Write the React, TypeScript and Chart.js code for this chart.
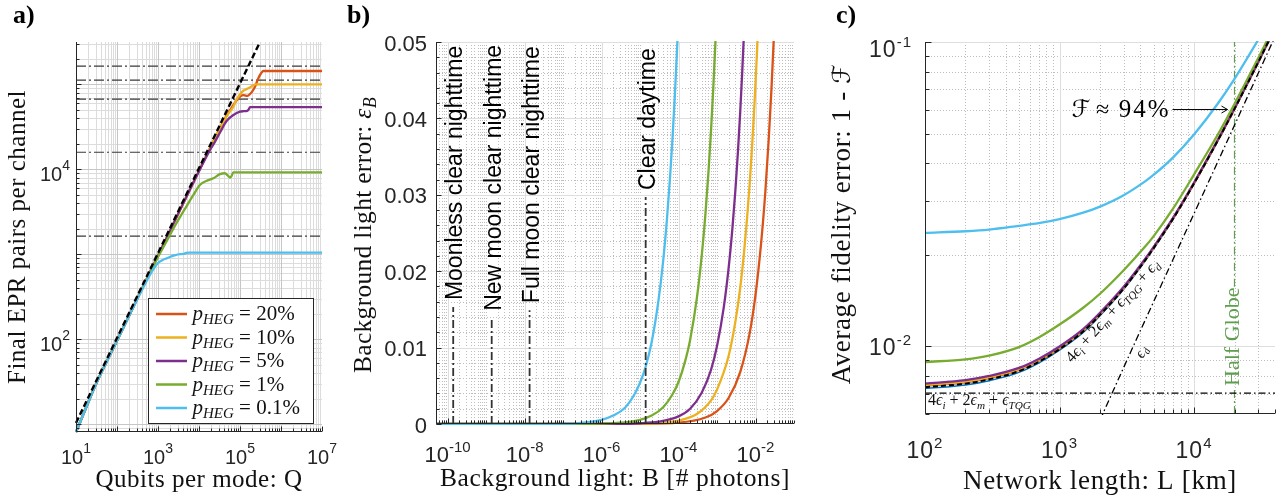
import React, { useEffect, useRef } from 'react';
import { Chart, registerables } from 'chart.js';
Chart.register(...registerables);

const W = 1285;
const H = 499;

const ORANGE = '#D95319';
const YELLOW = '#EDB120';
const PURPLE = '#7E2F8E';
const GREEN = '#77AC30';
const CYAN = '#4DBEEE';
const BLUE = '#0072BD';
const AXIS = '#262626';
const GLOBE = '#5E9E4E';

const SANS = '"Liberation Sans", Arial, Helvetica, sans-serif';
const SERIF = '"Liberation Serif", "Times New Roman", "DejaVu Serif", "DejaVu Sans", serif';

// ---------------- legend ----------------
const hegLabels = ['20%', '10%', '5%', '1%', '0.1%'];
const hegColors = [ORANGE, YELLOW, PURPLE, GREEN, CYAN];

// ---------------- panel a ----------------
const aXTicks = [1e1, 1e3, 1e5, 1e7];
const aYTicks = [1e2, 1e4];
const aQ_dash = [10, 307000];
const aN_dash = [10.4, 314600];
const aQ_orange = [10, 15, 30, 100, 300, 1000, 3000, 10000, 30000, 50000, 68700, 85000, 100000, 125000, 150000, 180000, 209000, 232000, 280000, 330000, 372000, 1e7];
const aN_orange = [8.12, 13, 29, 96, 290, 960, 2900, 9600, 28500, 45000, 57100, 66000, 72000, 74500, 73000, 78000, 85700, 93600, 118000, 136000, 143600, 143600];
const aQ_yellow = [10, 15, 30, 100, 300, 1000, 3000, 10000, 30000, 50000, 69000, 81000, 100000, 120000, 160000, 210000, 235000, 1e7];
const aN_yellow = [8.12, 13, 29, 96, 290, 960, 2900, 9600, 28500, 44000, 54600, 65300, 76000, 84100, 90000, 97200, 100000, 100000];
const aQ_purple = [10, 15, 30, 100, 300, 1000, 3000, 10000, 18000, 25000, 33000, 47000, 69000, 100000, 120000, 150000, 165000, 175000, 1e7];
const aN_purple = [8.12, 13, 29, 96, 290, 960, 2900, 9500, 16500, 21500, 27500, 37000, 43600, 47700, 48300, 48800, 51000, 54100, 54100];
const aQ_green = [10, 15, 30, 100, 300, 1000, 1500, 2500, 5000, 7500, 10500, 15000, 22400, 32400, 42800, 50000, 57000, 62000, 68700, 1e7];
const aN_green = [8.12, 13, 29, 96, 290, 930, 1330, 2100, 3700, 5100, 6530, 7300, 7840, 8800, 9000, 8500, 8000, 8300, 9230, 9230];
const aQ_cyan = [10, 15, 30, 100, 300, 600, 767, 1000, 1300, 1620, 2500, 3440, 4200, 4800, 6000, 1e7];
const aN_cyan = [8.12, 13, 29, 96, 285, 545, 666, 790, 860, 897, 970, 1005, 1010, 1040, 1045, 1045];
const aRefN = [164000, 112000, 67000, 15900, 1640];

// ---------------- panel b ----------------
const bXTicks = [1e-10, 1e-8, 1e-6, 1e-4, 1e-2];
const bYTicks = [0, 0.01, 0.02, 0.03, 0.04, 0.05];
const bYTickLabels = ['0', '0.01', '0.02', '0.03', '0.04', '0.05'];
const bB_cyan = [5e-11, 1e-8, 1e-7, 3e-7, 1e-6, 2e-6, 4e-6, 7e-6, 1e-5, 1.4e-5, 2e-5, 3e-5, 4e-5, 5e-5, 6e-5, 7e-5, 8e-5, 9e-5, 1e-4];
const bE_cyan = [0, 0.000005, 0.00005, 0.00016, 0.00054, 0.0011, 0.0021, 0.0038, 0.0054, 0.0075, 0.0107, 0.0161, 0.0214, 0.0268, 0.0322, 0.0375, 0.0429, 0.0482, 0.0536];
const bB_green = [5e-11, 1e-7, 1e-6, 3e-6, 1e-5, 2e-5, 4e-5, 7e-5, 1e-4, 1.5e-4, 2e-4, 3e-4, 4e-4, 5e-4, 6e-4, 7e-4, 8e-4, 9e-4, 1e-3];
const bE_green = [0, 0.0000055, 0.000055, 0.00017, 0.00055, 0.0011, 0.0022, 0.0039, 0.0055, 0.0083, 0.011, 0.0165, 0.022, 0.0275, 0.033, 0.0385, 0.044, 0.0495, 0.055];
const bB_purple = [5e-11, 1e-6, 1e-5, 3e-5, 1e-4, 2e-4, 4e-4, 7e-4, 1e-3, 1.5e-3, 2e-3, 2.5e-3, 3e-3, 3.5e-3, 4e-3, 4.5e-3, 5e-3, 5.5e-3];
const bE_purple = [0, 0.00001, 0.0001, 0.0003, 0.001, 0.002, 0.0041, 0.0071, 0.0102, 0.0153, 0.0204, 0.0255, 0.0306, 0.0357, 0.0408, 0.0459, 0.051, 0.056];
const bB_yellow = [5e-11, 1e-6, 1e-5, 1e-4, 3e-4, 7e-4, 1e-3, 2e-3, 3e-3, 4e-3, 5e-3, 6e-3, 7e-3, 8e-3, 9e-3, 1e-2, 1.1e-2, 1.2e-2];
const bE_yellow = [0, 0.0000045, 0.000045, 0.00045, 0.0013, 0.0031, 0.0045, 0.0089, 0.0134, 0.0178, 0.0223, 0.0268, 0.0312, 0.0357, 0.0401, 0.0446, 0.049, 0.0535];
const bB_orange = [5e-11, 1e-6, 1e-5, 1e-4, 5e-4, 1e-3, 2e-3, 4e-3, 7e-3, 1e-2, 1.4e-2, 1.8e-2, 2.2e-2, 2.6e-2, 3e-2, 3.2e-2];
const bE_orange = [0, 0.0000017, 0.000017, 0.00017, 0.00085, 0.0017, 0.0034, 0.0068, 0.0118, 0.0169, 0.0237, 0.0304, 0.0372, 0.0439, 0.0507, 0.054];
const bLineB = [1.4e-10, 1.4e-9, 1.35e-8, 1.4e-5];
const bLineTop = [0.0153, 0.0139, 0.0149, 0.0297];
const bLineLabels = ['Moonless clear nighttime', 'New moon clear nighttime', 'Full moon clear nighttime', 'Clear daytime'];

// ---------------- panel c ----------------
const cXTicks = [1e2, 1e3, 1e4];
const cYTicks = [1e-2, 1e-1];
const cL = [100, 200, 300, 500, 700, 1000, 1500, 2000, 3000, 4300, 5000, 7000, 10000, 15000, 20000, 30000, 36000, 40000];
const cBlack = [0.00735, 0.00755, 0.0078, 0.0083, 0.0089, 0.0098, 0.0112, 0.0127, 0.0155, 0.0191, 0.021, 0.0263, 0.0343, 0.0474, 0.0603, 0.0858, 0.101, 0.111];
const cPurple = [0.00755, 0.00775, 0.008, 0.0085, 0.0091, 0.01, 0.0114, 0.0129, 0.0157, 0.0193, 0.0212, 0.0265, 0.0345, 0.0476, 0.0605, 0.086, 0.1012, 0.1112];
const cYellow = [0.00747, 0.00767, 0.00792, 0.00842, 0.00902, 0.00992, 0.01132, 0.01282, 0.01562, 0.01922, 0.02112, 0.02642, 0.03442, 0.04752, 0.06042, 0.08592, 0.1011, 0.1111];
const cOrange = [0.00742, 0.00762, 0.00787, 0.00837, 0.00897, 0.00987, 0.01127, 0.01277, 0.01557, 0.01917, 0.02107, 0.02637, 0.03437, 0.04747, 0.06037, 0.08587, 0.1011, 0.1111];
const cBlue = [0.00727, 0.00747, 0.00772, 0.00822, 0.00882, 0.00972, 0.01112, 0.01262, 0.01542, 0.01902, 0.02092, 0.02622, 0.03422, 0.04732, 0.06022, 0.08572, 0.1009, 0.1109];
const cGreen = [0.00889, 0.00907, 0.00933, 0.00995, 0.0107, 0.0118, 0.0134, 0.0149, 0.0178, 0.0212, 0.023, 0.0284, 0.0367, 0.0496, 0.0626, 0.0885, 0.1038, 0.114];
const cCyan = [0.0236, 0.0239, 0.0242, 0.0249, 0.0254, 0.0262, 0.0275, 0.0288, 0.0314, 0.0348, 0.0366, 0.0418, 0.0497, 0.0627, 0.0757, 0.1017, 0.117, 0.127];
const cDL = [2000, 3530, 10000, 20000, 38300, 42000];
const cDVal = [0.00573, 0.01, 0.0273, 0.0533, 0.0999, 0.1092];
const cConst = 0.00703;
const cGlobeL = 20000;
const cGlobeGap = [0.00738, 0.0157];
const cFidelity = 0.06;

// ---------------- helpers ----------------
type Seg = { t: string; size: number; style?: string; family?: string; dy?: number };

function fontOf(s: Seg, fam: string) {
  return `${s.style || 'normal'} ${s.size}px ${s.family || fam}`;
}
function segsWidth(ctx: CanvasRenderingContext2D, segs: Seg[], fam: string) {
  let w = 0;
  for (const s of segs) {
    ctx.font = fontOf(s, fam);
    w += ctx.measureText(s.t).width;
  }
  return w;
}
function drawSegs(ctx: CanvasRenderingContext2D, segs: Seg[], fam: string, x: number, y: number, align: string, ls = 0) {
  (ctx as any).letterSpacing = `${ls}px`;
  const w = segsWidth(ctx, segs, fam);
  let cx = align === 'left' ? x : align === 'right' ? x - w : x - w / 2;
  ctx.textAlign = 'left';
  ctx.textBaseline = 'alphabetic';
  for (const s of segs) {
    ctx.font = fontOf(s, fam);
    ctx.fillText(s.t, cx, y + (s.dy || 0));
    cx += ctx.measureText(s.t).width;
  }
  (ctx as any).letterSpacing = '0px';
}
function drawRot(ctx: CanvasRenderingContext2D, segs: Seg[], fam: string, x: number, y: number, ang: number, align: string, ls = 0) {
  ctx.save();
  ctx.translate(x, y);
  ctx.rotate(ang);
  drawSegs(ctx, segs, fam, 0, 0, align, ls);
  ctx.restore();
}
function drawPow(ctx: CanvasRenderingContext2D, v: number, x: number, y: number, align: string, base: number, ex: number, exDy: number, ls = 0) {
  const e = Math.round(Math.log10(v));
  drawSegs(ctx, [{ t: '10', size: base }, { t: String(e), size: ex, dy: exDy }], SANS, x, y, align, ls);
}
function logSteps(min: number, max: number) {
  const out: number[] = [];
  for (let e = Math.floor(Math.log10(min)); e <= Math.ceil(Math.log10(max)); e++) {
    for (let k = 1; k <= 9; k++) {
      const v = k * Math.pow(10, e);
      if (v >= min * 0.9999 && v <= max * 1.0001) out.push(v);
    }
  }
  return out;
}
function linSteps(min: number, max: number, step: number) {
  const out: number[] = [];
  for (let i = 0; min + i * step <= max + step * 1e-6; i++) out.push(+(min + i * step).toFixed(6));
  return out;
}
const isDecade = (v: number) => Math.abs(Math.log10(v) - Math.round(Math.log10(v))) < 1e-6;
const inList = (v: number, arr: number[]) => arr.some((a) => Math.abs(a - v) <= Math.abs(a) * 1e-6 + 1e-12);

type GS = { color: string; dash: number[] };
function drawGrid(chart: any, xs: [number, boolean][], ys: [number, boolean][], major: GS, minor: GS) {
  const { ctx, chartArea: ca, scales } = chart;
  ctx.save();
  ctx.beginPath();
  ctx.rect(ca.left, ca.top, ca.right - ca.left, ca.bottom - ca.top);
  ctx.clip();
  ctx.lineWidth = 1;
  const draw = (maj: boolean, fn: () => void) => {
    const st = maj ? major : minor;
    ctx.strokeStyle = st.color;
    ctx.setLineDash(st.dash);
    ctx.beginPath();
    fn();
    ctx.stroke();
  };
  for (const pass of [false, true]) {
    for (const [v, maj] of xs) {
      if (maj !== pass) continue;
      const px = Math.round(scales.x.getPixelForValue(v)) + 0.5;
      draw(maj, () => { ctx.moveTo(px, ca.top); ctx.lineTo(px, ca.bottom); });
    }
    for (const [v, maj] of ys) {
      if (maj !== pass) continue;
      const py = Math.round(scales.y.getPixelForValue(v)) + 0.5;
      draw(maj, () => { ctx.moveTo(ca.left, py); ctx.lineTo(ca.right, py); });
    }
  }
  ctx.restore();
}
function drawAxes(chart: any, xt: [number, number][], yt: [number, number][]) {
  const { ctx, chartArea: ca, scales } = chart;
  ctx.save();
  ctx.strokeStyle = AXIS;
  ctx.lineWidth = 1;
  ctx.setLineDash([]);
  const L = Math.round(ca.left) + 0.5;
  const B = Math.round(ca.bottom) - 0.5;
  ctx.beginPath();
  ctx.moveTo(L, ca.top);
  ctx.lineTo(L, B);
  ctx.lineTo(ca.right, B);
  for (const [v, len] of xt) {
    const px = Math.round(scales.x.getPixelForValue(v)) + 0.5;
    ctx.moveTo(px, B);
    ctx.lineTo(px, B - len);
  }
  for (const [v, len] of yt) {
    const py = Math.round(scales.y.getPixelForValue(v)) + 0.5;
    ctx.moveTo(L, py);
    ctx.lineTo(L + len, py);
  }
  ctx.stroke();
  ctx.restore();
}
function panelLetter(ctx: CanvasRenderingContext2D, t: string, x: number) {
  ctx.fillStyle = '#000';
  drawSegs(ctx, [{ t, size: 26, style: 'bold' }], SERIF, x, 23, 'left');
}

function ds(xs: number[], ys: number[], color: string, width: number, dash: number[], order: number, smooth = false) {
  return {
    data: xs.map((x, i) => ({ x, y: ys[i] })),
    borderColor: color,
    backgroundColor: color,
    borderWidth: width,
    borderDash: dash,
    order,
    pointRadius: 0,
    fill: false,
    tension: 0,
    cubicInterpolationMode: smooth ? 'monotone' : 'default',
    clip: 1,
  };
}

function makeChart(canvas: HTMLCanvasElement, datasets: any[], xs: any, ys: any, padding: any, plugin: any) {
  return new Chart(canvas, {
    type: 'line',
    data: { datasets },
    options: {
      animation: false,
      responsive: false,
      maintainAspectRatio: false,
      events: [],
      layout: { padding },
      plugins: { legend: { display: false }, tooltip: { enabled: false } },
      scales: {
        x: { ...xs, display: false, bounds: 'data' },
        y: { ...ys, display: false, bounds: 'data' },
      },
    },
    plugins: [plugin],
  } as any);
}

// ---------------- panel builders ----------------
function buildA(canvas: HTMLCanvasElement) {
  const X0 = 10, X1 = 1e7, Y0 = 8.12, Y1 = 3.15e5;
  const datasets = [
    ds(aQ_dash, aN_dash, '#000', 2.4, [6, 3], 0),
    ds(aQ_cyan, aN_cyan, CYAN, 2.3, [], 1, true),
    ds(aQ_green, aN_green, GREEN, 2.3, [], 2, true),
    ds(aQ_purple, aN_purple, PURPLE, 2.3, [], 3, true),
    ds(aQ_yellow, aN_yellow, YELLOW, 2.3, [], 4, true),
    ds(aQ_orange, aN_orange, ORANGE, 2.3, [], 5, true),
    ...aRefN.map((v) => ds([X0, X1], [v, v], '#3a3a3a', 1.2, [10, 3, 2, 3], 10)),
  ];
  const xsteps = logSteps(X0, X1);
  const ysteps = logSteps(Y0, Y1);
  const plugin = {
    id: 'panelA',
    beforeDatasetsDraw(chart: any) {
      drawGrid(chart,
        xsteps.map((v) => [v, isDecade(v)] as [number, boolean]),
        ysteps.map((v) => [v, isDecade(v)] as [number, boolean]),
        { color: '#c6c6c6', dash: [] }, { color: '#dcdcdc', dash: [] });
    },
    afterDatasetsDraw(chart: any) {
      const { ctx, chartArea: ca, scales } = chart;
      drawAxes(chart,
        xsteps.map((v) => [v, isDecade(v) ? 5 : 3] as [number, number]),
        ysteps.map((v) => [v, isDecade(v) ? 5 : 3] as [number, number]));
      ctx.fillStyle = AXIS;
      for (const v of aXTicks) drawPow(ctx, v, scales.x.getPixelForValue(v), 464, 'center', 20, 14, -11);
      for (const v of aYTicks) drawPow(ctx, v, 70, scales.y.getPixelForValue(v) + 12, 'right', 20, 14, -11);
      ctx.fillStyle = '#111';
      drawSegs(ctx, [{ t: 'Qubits per mode: Q', size: 25 }], SERIF, (ca.left + ca.right) / 2, 487, 'center', 0.5);
      drawRot(ctx, [{ t: 'Final EPR pairs per channel', size: 25 }], SERIF, 25, (ca.top + ca.bottom) / 2, -Math.PI / 2, 'center', 0.5);
      // legend
      const bx = ca.right - 173.5, by = ca.bottom - 133.5, bw = 165, bh = 125;
      ctx.save();
      ctx.fillStyle = '#fff';
      ctx.fillRect(bx, by, bw, bh);
      ctx.strokeStyle = AXIS;
      ctx.lineWidth = 1;
      ctx.strokeRect(bx, by, bw, bh);
      for (let i = 0; i < hegLabels.length; i++) {
        const yy = by + 15.5 + i * 23.5;
        ctx.strokeStyle = hegColors[i];
        ctx.lineWidth = 2.5;
        ctx.beginPath();
        ctx.moveTo(bx + 7.5, yy);
        ctx.lineTo(bx + 38.5, yy);
        ctx.stroke();
        ctx.fillStyle = '#111';
        drawSegs(ctx, [
          { t: 'p', size: 21, style: 'italic' },
          { t: 'HEG', size: 15, style: 'italic', dy: 4 },
          { t: ' = ' + hegLabels[i], size: 21 },
        ], SERIF, bx + 44, yy + 6, 'left');
      }
      ctx.restore();
      panelLetter(ctx, 'a)', 13);
    },
  };
  return makeChart(canvas, datasets,
    { type: 'logarithmic', min: X0, max: X1 },
    { type: 'logarithmic', min: Y0, max: Y1 },
    { left: 76, right: W - 322, top: 42, bottom: H - 432 }, plugin);
}

function buildB(canvas: HTMLCanvasElement) {
  const X0 = 5e-11, X1 = 0.1, Y0 = 0, Y1 = 0.05;
  const datasets = [
    ...bLineB.map((b, i) => ds([b, b], [0, bLineTop[i]], '#333', 1.8, [8, 3, 2, 3], 0)),
    ds(bB_cyan, bE_cyan, CYAN, 2.3, [], 1, true),
    ds(bB_green, bE_green, GREEN, 2.3, [], 2, true),
    ds(bB_purple, bE_purple, PURPLE, 2.3, [], 3, true),
    ds(bB_yellow, bE_yellow, YELLOW, 2.3, [], 4, true),
    ds(bB_orange, bE_orange, ORANGE, 2.3, [], 5, true),
  ];
  const xsteps = logSteps(X0, X1);
  const ysteps = linSteps(Y0, Y1, 0.002);
  const plugin = {
    id: 'panelB',
    beforeDatasetsDraw(chart: any) {
      drawGrid(chart,
        xsteps.map((v) => [v, inList(v, bXTicks)] as [number, boolean]),
        ysteps.map((v) => [v, inList(v, bYTicks)] as [number, boolean]),
        { color: '#dedede', dash: [] }, { color: '#bdbdbd', dash: [1, 2] });
    },
    afterDatasetsDraw(chart: any) {
      const { ctx, chartArea: ca, scales } = chart;
      drawAxes(chart,
        xsteps.map((v) => [v, inList(v, bXTicks) ? 5 : 3] as [number, number]),
        ysteps.map((v) => [v, inList(v, bYTicks) ? 5 : 3] as [number, number]));
      ctx.fillStyle = AXIS;
      for (const v of bXTicks) drawPow(ctx, v, scales.x.getPixelForValue(v), 462, 'center', 22, 15, -10);
      bYTicks.forEach((v, i) => {
        drawSegs(ctx, [{ t: bYTickLabels[i], size: 22 }], SANS, 427, scales.y.getPixelForValue(v) + 8.5, 'right');
      });
      ctx.fillStyle = '#111';
      drawSegs(ctx, [{ t: 'Background light: B [# photons]', size: 25.5 }], SERIF, (ca.left + ca.right) / 2, 486, 'center', 0.6);
      drawRot(ctx, [
        { t: 'Background light error: ', size: 25.5 },
        { t: 'ε', size: 25.5, style: 'italic' },
        { t: 'B', size: 18, style: 'italic', dy: 5 },
      ], SERIF, 370.5, 235, -Math.PI / 2, 'center', 0.3);
      ctx.fillStyle = '#000';
      bLineB.forEach((b, i) => {
        const px = scales.x.getPixelForValue(b) + 9;
        const py = scales.y.getPixelForValue(bLineTop[i]) - 7;
        drawRot(ctx, [{ t: bLineLabels[i], size: 23 }], SANS, px, py, -Math.PI / 2, 'left');
      });
      panelLetter(ctx, 'b)', 347);
    },
  };
  return makeChart(canvas, datasets,
    { type: 'logarithmic', min: X0, max: X1 },
    { type: 'linear', min: Y0, max: Y1 },
    { left: 436, right: W - 794, top: 42, bottom: H - 424 }, plugin);
}

function buildC(canvas: HTMLCanvasElement) {
  const X0 = 100, X1 = 40000, Y0 = 0.006, Y1 = 0.1;
  const datasets = [
    ds(cL, cBlack, '#000', 2, [5, 3], 0, true),
    ds(cDL, cDVal, '#000', 1.3, [7, 3, 1.5, 3], 1, true),
    ds([X0, X1], [cConst, cConst], '#000', 1.3, [7, 3, 1.5, 3], 2),
    ds(cL, cCyan, CYAN, 2.3, [], 3, true),
    ds(cL, cGreen, GREEN, 2.3, [], 4, true),
    ds(cL, cPurple, PURPLE, 2.3, [], 5, true),
    ds(cL, cYellow, YELLOW, 2.3, [], 6, true),
    ds(cL, cOrange, ORANGE, 2.3, [], 7, true),
    ds(cL, cBlue, BLUE, 1.5, [], 8, true),
    ds([cGlobeL, cGlobeL], [Y0, cGlobeGap[0]], GLOBE, 1.2, [8, 3, 2, 3], 9),
    ds([cGlobeL, cGlobeL], [cGlobeGap[1], Y1], GLOBE, 1.2, [8, 3, 2, 3], 9),
  ];
  const xsteps = logSteps(X0, X1);
  const ysteps = logSteps(Y0, Y1);
  const eps = (sub: string, size: number): Seg[] => [
    { t: 'ϵ', size, style: 'italic' },
    { t: sub, size: size * 0.7, style: 'italic', dy: size * 0.22 },
  ];
  const plugin = {
    id: 'panelC',
    beforeDatasetsDraw(chart: any) {
      drawGrid(chart,
        xsteps.map((v) => [v, isDecade(v)] as [number, boolean]),
        ysteps.map((v) => [v, isDecade(v)] as [number, boolean]),
        { color: '#dedede', dash: [] }, { color: '#bdbdbd', dash: [1, 2] });
    },
    afterDatasetsDraw(chart: any) {
      const { ctx, chartArea: ca, scales } = chart;
      const sx = scales.x, sy = scales.y;
      drawAxes(chart,
        xsteps.map((v) => [v, isDecade(v) ? 6 : 4] as [number, number]),
        ysteps.map((v) => [v, isDecade(v) ? 6 : 4] as [number, number]));
      ctx.fillStyle = AXIS;
      for (const v of cXTicks) drawPow(ctx, v, sx.getPixelForValue(v), 458, 'center', 23, 15, -10, 1);
      for (const v of cYTicks) {
        const by = Math.max(sy.getPixelForValue(v) + 8.5, ca.top + 15);
        drawPow(ctx, v, 912, by, 'right', 23, 15, -10, 1);
      }
      ctx.fillStyle = '#111';
      drawSegs(ctx, [{ t: 'Network length: L [km]', size: 27 }], SERIF, (ca.left + ca.right) / 2, 489, 'center', 0.7);
      drawRot(ctx, [
        { t: 'Average fidelity error: 1 - ', size: 27 },
        { t: 'ℱ', size: 25, family: '"DejaVu Serif", "DejaVu Sans", serif' },
      ], SERIF, 849.5, 224, -Math.PI / 2, 'center', 0.6);

      // horizontal constant label
      const lbl1: Seg[] = [
        { t: '4', size: 16 }, ...eps('i', 16),
        { t: ' + 2', size: 16 }, ...eps('m', 16),
        { t: ' + ', size: 16 }, ...eps('TQG', 16),
      ];
      ctx.fillStyle = '#111';
      drawSegs(ctx, lbl1, SERIF, ca.left + 3, sy.getPixelForValue(cConst) + 12, 'left');
      // rotated sum label
      const lbl2: Seg[] = [...lbl1, { t: ' + ', size: 16 }, ...eps('d', 16)];
      drawRot(ctx, lbl2, SERIF, sx.getPixelForValue(1240), sy.getPixelForValue(0.0088), -48.2 * Math.PI / 180, 'left');
      drawRot(ctx, eps('d', 15), SERIF, sx.getPixelForValue(4180), sy.getPixelForValue(0.0091), -65 * Math.PI / 180, 'left');

      // half globe
      const gx = sx.getPixelForValue(cGlobeL);
      const gy = (sy.getPixelForValue(cGlobeGap[0]) + sy.getPixelForValue(cGlobeGap[1])) / 2;
      ctx.fillStyle = GLOBE;
      drawRot(ctx, [{ t: 'Half Globe', size: 22 }], SERIF, gx + 4.6, gy, -Math.PI / 2, 'center');

      // fidelity arrow
      const tx = gx - 7, ty = sy.getPixelForValue(cFidelity);
      ctx.save();
      ctx.strokeStyle = '#000';
      ctx.fillStyle = '#000';
      ctx.lineWidth = 1;
      ctx.beginPath();
      ctx.moveTo(tx - 55, ty);
      ctx.lineTo(tx, ty);
      ctx.moveTo(tx - 6, ty - 3.5);
      ctx.lineTo(tx, ty);
      ctx.lineTo(tx - 6, ty + 3.5);
      ctx.stroke();
      drawSegs(ctx, [{ t: '94%', size: 25 }], SERIF, tx - 57, ty + 7, 'right', 2);
      drawSegs(ctx, [{ t: '≈', size: 24 }], SERIF, tx - 125, ty + 7, 'center');
      drawSegs(ctx, [{ t: 'ℱ', size: 24, family: '"DejaVu Serif", "DejaVu Sans", serif' }], SERIF, tx - 156, ty + 7, 'left');
      ctx.restore();
      panelLetter(ctx, 'c)', 836);
    },
  };
  return makeChart(canvas, datasets,
    { type: 'logarithmic', min: X0, max: X1 },
    { type: 'logarithmic', min: Y0, max: Y1 },
    { left: 925, right: W - 1275, top: 42, bottom: H - 414 }, plugin);
}

export default function App() {
  const ra = useRef<HTMLCanvasElement>(null);
  const rb = useRef<HTMLCanvasElement>(null);
  const rc = useRef<HTMLCanvasElement>(null);
  useEffect(() => {
    const charts = [buildA(ra.current!), buildB(rb.current!), buildC(rc.current!)];
    return () => charts.forEach((c) => c.destroy());
  }, []);
  const cs: React.CSSProperties = { position: 'absolute', left: 0, top: 0 };
  return (
    <div style={{ position: 'absolute', left: 0, top: 0, width: W, height: H, background: '#fff', overflow: 'hidden' }}>
      <canvas ref={ra} width={W} height={H} style={cs} />
      <canvas ref={rb} width={W} height={H} style={cs} />
      <canvas ref={rc} width={W} height={H} style={cs} />
    </div>
  );
}
